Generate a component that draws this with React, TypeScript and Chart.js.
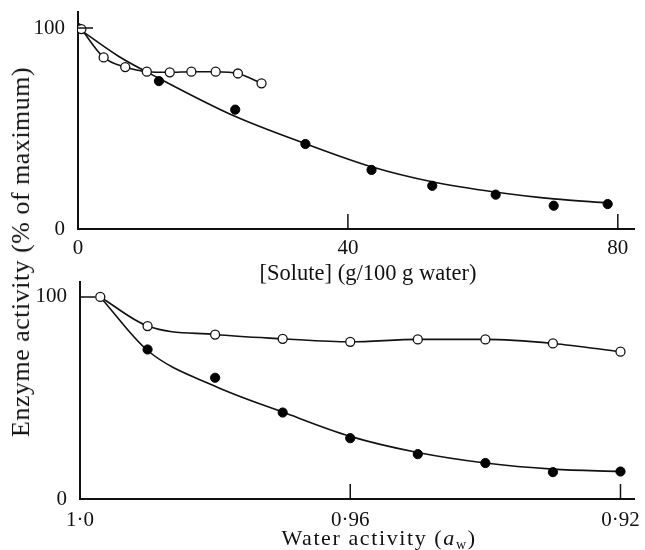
import React, { useEffect, useRef } from "react";
import { Chart, registerables } from "chart.js";

Chart.register(...registerables);

// ---- Top panel: enzyme activity vs solute concentration ----
const soluteOpenX = [0.5, 3.8, 7.0, 10.2, 13.6, 16.8, 20.4, 23.7, 27.2];
const soluteOpenY = [99.5, 85.4, 80.6, 78.3, 78.0, 78.3, 78.3, 77.4, 72.5];
const soluteFilledX = [0, 12.0, 23.3, 33.7, 43.5, 52.5, 61.9, 70.5, 78.5];
const soluteFilledY = [100, 73.6, 59.4, 42.3, 29.4, 21.5, 17.1, 11.6, 12.4];
// fitted curve through the filled points
const soluteFitX = [0, 6, 12, 23, 33.7, 43.5, 52.5, 62, 70.5, 78.5];
const soluteFitY = [100, 86, 75, 56.5, 42.5, 31, 23.5, 18.3, 15, 13];
const soluteTickLabels = [0, 40, 80];

// ---- Bottom panel: enzyme activity vs water activity ----
const awOpenX = [0.997, 0.99, 0.98, 0.97, 0.96, 0.95, 0.94, 0.93, 0.92];
const awOpenY = [100, 85.6, 81.4, 79.3, 77.8, 79.0, 79.0, 77.0, 72.9];
const awFilledX = [0.99, 0.98, 0.97, 0.96, 0.95, 0.94, 0.93, 0.92];
const awFilledY = [74.0, 60.0, 42.8, 30.1, 22.2, 17.8, 13.3, 13.6];
const awFitX = [0.997, 0.99, 0.98, 0.97, 0.96, 0.95, 0.94, 0.93, 0.92];
const awFitY = [100, 73.5, 55.8, 43.0, 31.0, 23.0, 17.8, 14.8, 13.6];
const awTickLabels = [1.0, 0.96, 0.92];

const yTickLabels = [0, 100];

const FONT = "'Liberation Serif', 'Times New Roman', serif";

const pts = (xs: number[], ys: number[]) => xs.map((x, i) => ({ x, y: ys[i] }));

const insideTicks = (xVals: number[], yVals: number[], len: number) => ({
  id: "insideTicks",
  afterDatasetsDraw(chart: any) {
    const ctx = chart.ctx;
    const xs = chart.scales.x;
    const ys = chart.scales.y;
    ctx.save();
    ctx.strokeStyle = "#111";
    ctx.lineWidth = 1.5;
    ctx.beginPath();
    xVals.forEach((v) => {
      const px = xs.getPixelForValue(v);
      ctx.moveTo(px, ys.bottom);
      ctx.lineTo(px, ys.bottom - len);
    });
    yVals.forEach((v) => {
      const py = ys.getPixelForValue(v);
      ctx.moveTo(xs.left, py);
      ctx.lineTo(xs.left + len, py);
    });
    ctx.stroke();
    ctx.restore();
  },
});

function makeConfig(opts: {
  openPts: any[];
  filledPts: any[];
  fitPts: any[];
  xMin: number;
  xMax: number;
  reverse: boolean;
  yMax: number;
  xTicks: number[];
  xFmt: (v: number) => string;
  yAxisWidth: number;
  xAxisHeight: number;
  padTop: number;
  padRight: number;
  xPad: number;
  tickX: number[];
}) {
  return {
    type: "scatter" as const,
    data: {
      datasets: [
        {
          data: opts.fitPts,
          showLine: true,
          borderColor: "#111",
          borderWidth: 1.6,
          pointRadius: 0,
          tension: 0.4,
          cubicInterpolationMode: "monotone",
          order: 3,
        },
        {
          data: opts.openPts,
          showLine: true,
          borderColor: "#111",
          borderWidth: 1.6,
          pointRadius: 4.5,
          pointBackgroundColor: "#fff",
          pointBorderColor: "#111",
          pointBorderWidth: 1.3,
          tension: 0.4,
          cubicInterpolationMode: "monotone",
          order: 1,
        },
        {
          data: opts.filledPts,
          showLine: false,
          pointRadius: 4.6,
          pointBackgroundColor: "#000",
          pointBorderColor: "#000",
          pointBorderWidth: 1,
          order: 2,
        },
      ],
    },
    options: {
      animation: false,
      responsive: false,
      events: [],
      layout: { padding: { top: opts.padTop, right: opts.padRight, left: 0, bottom: 0 } },
      plugins: { legend: { display: false }, tooltip: { enabled: false } },
      scales: {
        x: {
          type: "linear",
          min: opts.xMin,
          max: opts.xMax,
          reverse: opts.reverse,
          grid: { display: false, drawTicks: false },
          border: { display: true, color: "#111", width: 2 },
          afterBuildTicks: (s: any) => {
            s.ticks = opts.xTicks.map((v) => ({ value: v }));
          },
          afterFit: (s: any) => {
            s.height = opts.xAxisHeight;
            s.paddingLeft = 0;
            s.paddingRight = 0;
            s.paddingTop = 0;
            s.paddingBottom = 0;
          },
          ticks: {
            color: "#111",
            padding: opts.xPad,
            maxRotation: 0,
            autoSkip: false,
            font: { family: FONT, size: 21 },
            callback: (v: any) => opts.xFmt(Number(v)),
          },
        },
        y: {
          type: "linear",
          min: 0,
          max: opts.yMax,
          grid: { display: false, drawTicks: false },
          border: { display: true, color: "#111", width: 2 },
          afterBuildTicks: (s: any) => {
            s.ticks = yTickLabels.map((v) => ({ value: v }));
          },
          afterFit: (s: any) => {
            s.width = opts.yAxisWidth;
            s.paddingLeft = 0;
            s.paddingRight = 0;
            s.paddingTop = 0;
            s.paddingBottom = 0;
          },
          ticks: {
            color: "#111",
            padding: 13,
            font: { family: FONT, size: 21 },
            callback: (v: any) => String(v),
          },
        },
      },
    },
    plugins: [insideTicks(opts.tickX, [100], 15)],
  };
}

export default function App() {
  const topRef = useRef<HTMLCanvasElement>(null);
  const botRef = useRef<HTMLCanvasElement>(null);

  useEffect(() => {
    const top = new Chart(
      topRef.current as HTMLCanvasElement,
      makeConfig({
        openPts: pts(soluteOpenX, soluteOpenY),
        filledPts: pts(soluteFilledX, soluteFilledY),
        fitPts: pts(soluteFitX, soluteFitY),
        xMin: 0,
        xMax: 82.4,
        reverse: false,
        yMax: 108,
        xTicks: soluteTickLabels,
        xFmt: (v) => String(v),
        yAxisWidth: 78,
        xAxisHeight: 265 - 229,
        padTop: 12,
        padRight: 11,
        xPad: 7,
        tickX: [40, 80],
      }) as any
    );
    const bot = new Chart(
      botRef.current as HTMLCanvasElement,
      makeConfig({
        openPts: pts(awOpenX, awOpenY),
        filledPts: pts(awFilledX, awFilledY),
        fitPts: pts(awFitX, awFitY),
        xMin: 0.918,
        xMax: 1.0,
        reverse: true,
        yMax: 107.4,
        xTicks: awTickLabels,
        xFmt: (v) => (Math.abs(v - 1) < 1e-9 ? "1·0" : v.toFixed(2).replace(".", "·")),
        yAxisWidth: 80,
        xAxisHeight: 285 - 234,
        padTop: 17,
        padRight: 11,
        xPad: 9,
        tickX: [0.96, 0.92],
      }) as any
    );
    return () => {
      top.destroy();
      bot.destroy();
    };
  }, []);

  const titleStyle: React.CSSProperties = {
    position: "absolute",
    fontFamily: FONT,
    fontSize: 22,
    color: "#111",
    whiteSpace: "nowrap",
    lineHeight: 1,
    transform: "translate(-50%, -50%)",
  };

  return (
    <div style={{ position: "absolute", left: 0, top: 0, width: 645, height: 550, background: "#fff" }}>
      <canvas ref={topRef} width={645} height={265} style={{ position: "absolute", left: 0, top: 0 }} />
      <canvas ref={botRef} width={645} height={285} style={{ position: "absolute", left: 0, top: 265 }} />
      <div style={{ ...titleStyle, left: 368, top: 273, fontSize: 22.5 }}>[Solute] (g/100 g water)</div>
      <div style={{ ...titleStyle, left: 379, top: 539, letterSpacing: "1.6px" }}>
        Water activity (<i>a</i>
        <sub style={{ fontSize: 14, verticalAlign: "-4px" }}>w</sub>)
      </div>
      <div
        style={{
          ...titleStyle,
          left: 21,
          top: 252,
          fontSize: 26,
          letterSpacing: "0.5px",
          transform: "translate(-50%, -50%) rotate(-90deg)",
        }}
      >
        Enzyme activity (% of maximum)
      </div>
    </div>
  );
}
